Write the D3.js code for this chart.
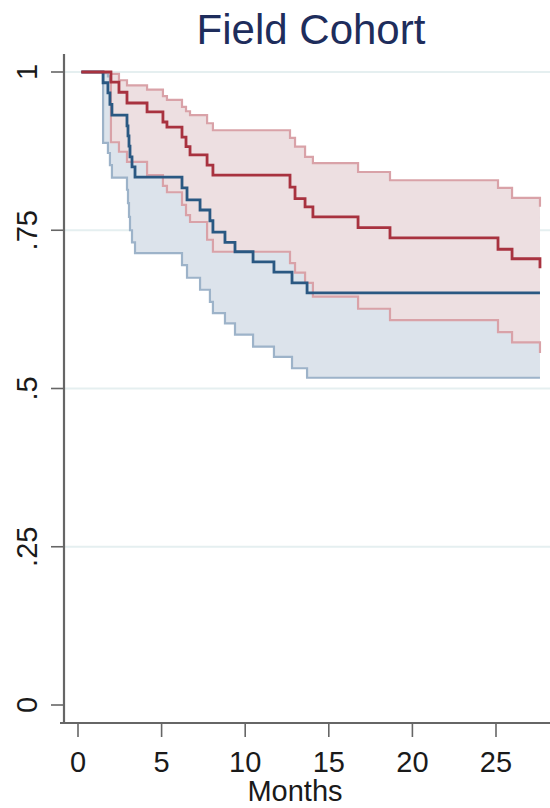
<!DOCTYPE html>
<html>
<head>
<meta charset="utf-8">
<script src="https://cdn.jsdelivr.net/npm/d3@7"></script>
<style>
  html, body { margin: 0; padding: 0; background: #fff; }
  svg { display: block; }
</style>
</head>
<body>
<svg id="chart" width="550" height="808"></svg>
<script>
// Kaplan-Meier estimates with pointwise confidence bands, two groups.
// Times in months; survival as a proportion.
const redTimes = [0.2, 1.97, 2.45, 2.93, 4.13, 5.08, 5.32, 6.22, 6.46, 6.70, 7.72, 8.07,
                  12.68, 12.98, 13.58, 14.05, 16.75, 18.66, 25.12, 25.96, 27.63];
const redSurv  = [1, 0.984, 0.968, 0.951, 0.937, 0.921, 0.913, 0.897, 0.882, 0.869, 0.853, 0.837,
                  0.818, 0.800, 0.787, 0.771, 0.754, 0.738, 0.720, 0.705, 0.690];
const redUpper = [1, 0.997, 0.987, 0.979, 0.972, 0.962, 0.956, 0.945, 0.938, 0.932, 0.919, 0.908,
                  0.896, 0.882, 0.866, 0.856, 0.842, 0.829, 0.817, 0.801, 0.787];
const redLower = [1, 0.889, 0.874, 0.858, 0.837, 0.820, 0.810, 0.790, 0.774, 0.763, 0.735, 0.716,
                  0.698, 0.683, 0.667, 0.645, 0.626, 0.608, 0.589, 0.573, 0.556];

const blueTimes = [0.2, 1.50, 1.79, 1.91, 2.03, 2.93, 2.99, 3.05, 3.11, 3.23, 3.41, 6.22, 6.52,
                   7.30, 7.89, 8.07, 8.79, 9.39, 10.47, 11.72, 12.80, 13.70, 27.63];
const blueSurv  = [1, 0.983, 0.967, 0.949, 0.932, 0.915, 0.899, 0.883, 0.866, 0.850, 0.834, 0.817, 0.798,
                   0.782, 0.765, 0.747, 0.731, 0.716, 0.700, 0.684, 0.667, 0.651, 0.651];
const blueUpper = [1, 0.998, 0.993, 0.985, 0.976, 0.966, 0.956, 0.945, 0.934, 0.923, 0.912, 0.900, 0.887,
                   0.875, 0.862, 0.849, 0.836, 0.823, 0.810, 0.797, 0.783, 0.770, 0.770];
const blueLower = [1, 0.888, 0.872, 0.853, 0.833, 0.814, 0.793, 0.771, 0.750, 0.731, 0.714, 0.695, 0.675,
                   0.656, 0.637, 0.619, 0.603, 0.585, 0.566, 0.550, 0.532, 0.517, 0.517];

const xTicks = [0, 5, 10, 15, 20, 25];
const yTicks = [0, 0.25, 0.5, 0.75, 1];
const yTickLabels = ["0", ".25", ".5", ".75", "1"];
const yGrid = [0.25, 0.5, 0.75, 1];

const titleText = "Field Cohort";
const xTitle = "Months";

const svg = d3.select("#chart");
const x = d3.scaleLinear().domain([0, 25]).range([78, 496]);
const y = d3.scaleLinear().domain([0, 1]).range([705, 72]);

const axisX = 64, axisY = 723, rightEdge = 550;

// light horizontal grid
svg.append("g").selectAll("line").data(yGrid).join("line")
  .attr("x1", axisX).attr("x2", rightEdge)
  .attr("y1", d => y(d)).attr("y2", d => y(d))
  .attr("stroke", "#e5eff0").attr("stroke-width", 2);

function rows(t, s, lo, hi) {
  return t.map((d, i) => ({ t: d, s: s[i], lo: lo[i], hi: hi[i] }));
}
const red = rows(redTimes, redSurv, redLower, redUpper);
const blue = rows(blueTimes, blueSurv, blueLower, blueUpper);

const band = d3.area().curve(d3.curveStepAfter)
  .x(d => x(d.t)).y0(d => y(d.lo)).y1(d => y(d.hi));
const lineOf = key => d3.line().curve(d3.curveStepAfter)
  .x(d => x(d.t)).y(d => y(d[key]));

const g = svg.append("g");
// blue band + its bounds
g.append("path").datum(blue).attr("d", band).attr("fill", "#dce3eb");
["lo", "hi"].forEach(k => g.append("path").datum(blue).attr("d", lineOf(k))
  .attr("fill", "none").attr("stroke", "#9db3c9").attr("stroke-width", 2.2));
// red band + its bounds
g.append("path").datum(red).attr("d", band).attr("fill", "#eddfe1");
["lo", "hi"].forEach(k => g.append("path").datum(red).attr("d", lineOf(k))
  .attr("fill", "none").attr("stroke", "#d9a2a8").attr("stroke-width", 2.2));
// survival estimates
g.append("path").datum(blue).attr("d", lineOf("s"))
  .attr("fill", "none").attr("stroke", "#2a5882").attr("stroke-width", 2.8);
g.append("path").datum(red).attr("d", lineOf("s"))
  .attr("fill", "none").attr("stroke", "#a8323f").attr("stroke-width", 2.8);

// axes
const axisColor = "#666";
svg.append("line").attr("x1", axisX).attr("x2", axisX).attr("y1", 54).attr("y2", axisY + 1)
  .attr("stroke", axisColor).attr("stroke-width", 2.2);
svg.append("line").attr("x1", 60).attr("x2", rightEdge).attr("y1", axisY).attr("y2", axisY)
  .attr("stroke", axisColor).attr("stroke-width", 2.2);

svg.append("g").selectAll("line").data(yTicks).join("line")
  .attr("x1", 51).attr("x2", axisX).attr("y1", d => y(d)).attr("y2", d => y(d))
  .attr("stroke", axisColor).attr("stroke-width", 1.6);
svg.append("g").selectAll("line").data(xTicks).join("line")
  .attr("x1", d => x(d)).attr("x2", d => x(d)).attr("y1", axisY).attr("y2", 737)
  .attr("stroke", axisColor).attr("stroke-width", 1.6);

const font = "'Liberation Sans', Arial, sans-serif";
svg.append("g").selectAll("text").data(yTicks).join("text")
  .attr("transform", d => `translate(37,${y(d)}) rotate(-90)`)
  .attr("text-anchor", "middle")
  .attr("font-family", font).attr("font-size", 29).attr("fill", "#1a1a1a")
  .text((d, i) => yTickLabels[i]);
svg.append("g").selectAll("text").data(xTicks).join("text")
  .attr("x", d => x(d)).attr("y", 772)
  .attr("text-anchor", "middle")
  .attr("font-family", font).attr("font-size", 29).attr("fill", "#1a1a1a")
  .text(d => d);
svg.append("text").attr("x", 295).attr("y", 801).attr("text-anchor", "middle")
  .attr("font-family", font).attr("font-size", 29).attr("fill", "#1a1a1a")
  .text(xTitle);
svg.append("text").attr("x", 311).attr("y", 44).attr("text-anchor", "middle")
  .attr("font-family", font).attr("font-size", 42).attr("fill", "#1e2d5c")
  .text(titleText);
</script>
</body>
</html>
